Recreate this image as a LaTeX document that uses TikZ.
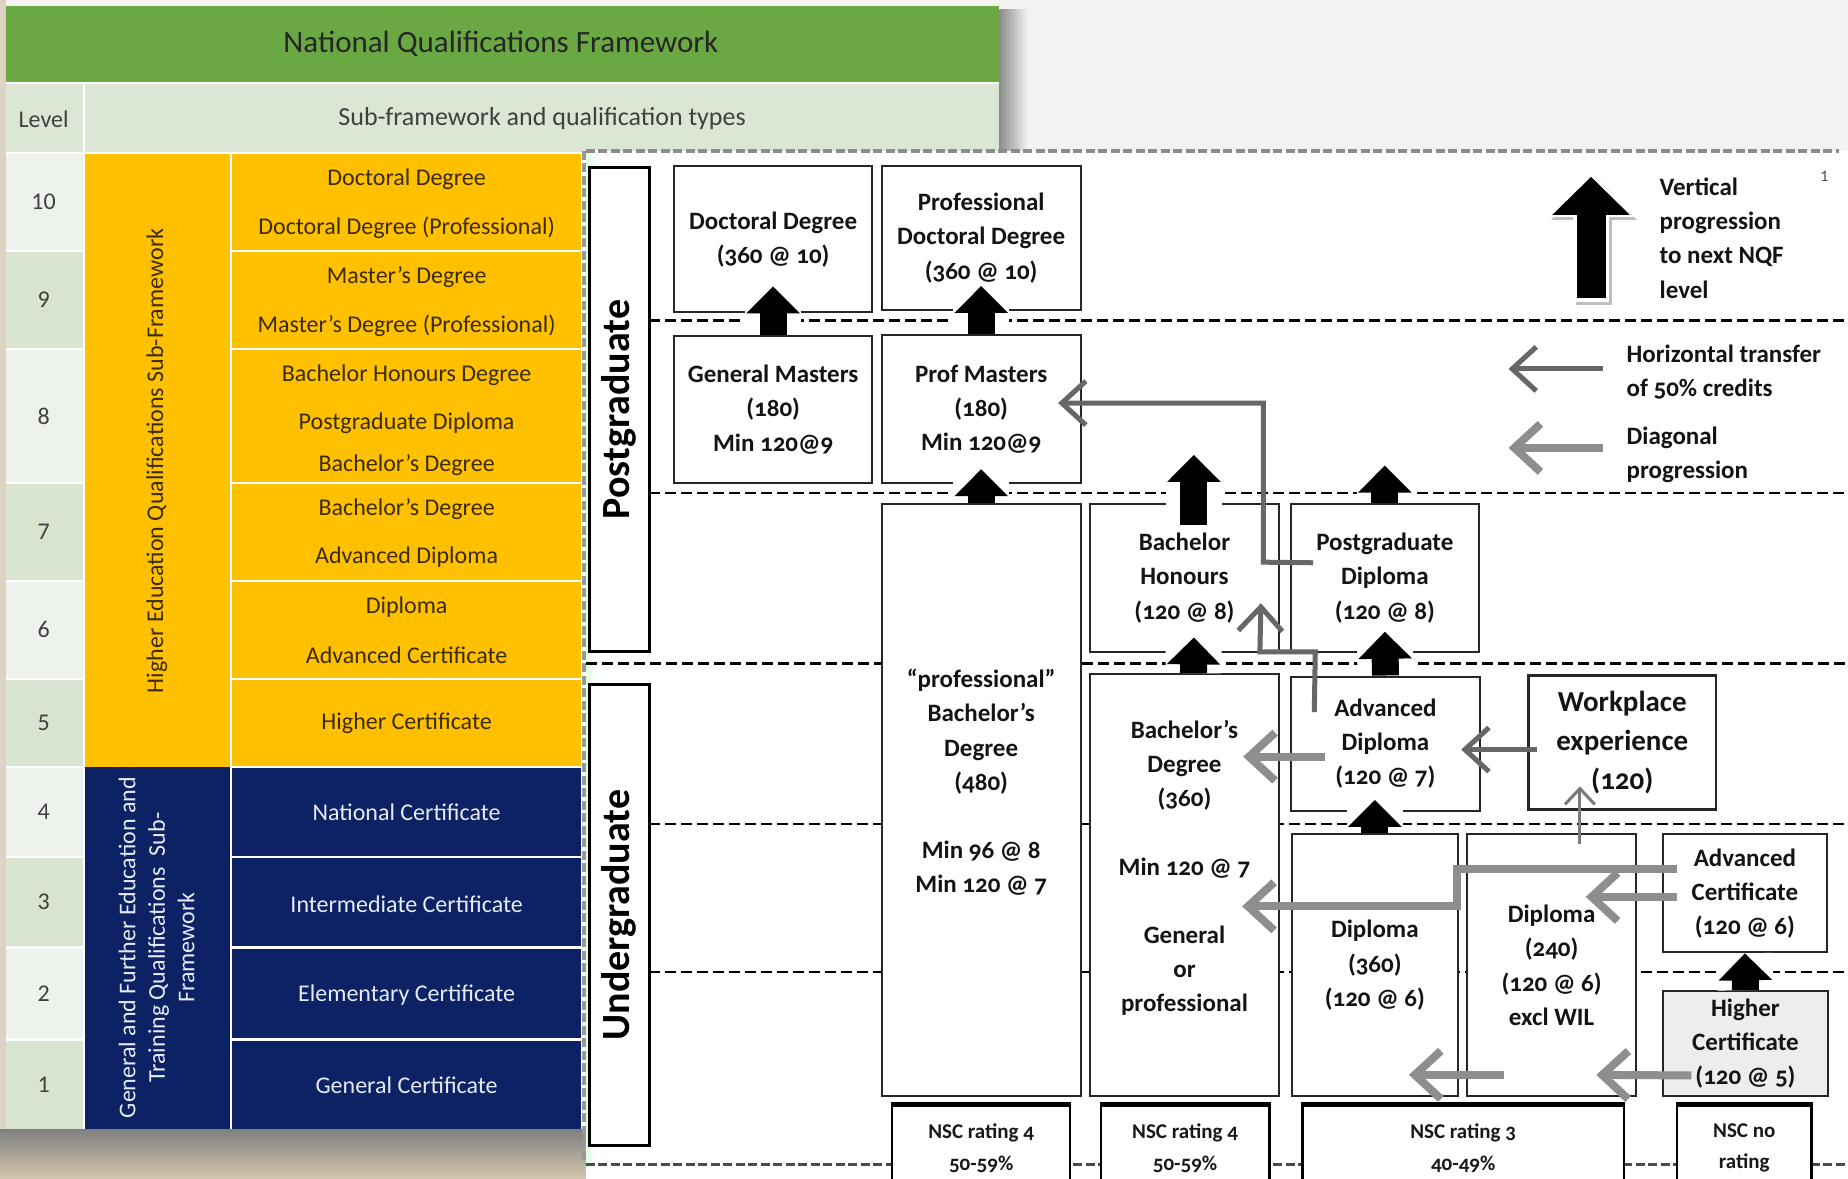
\documentclass[tikz,border=0pt]{standalone}
\usepackage{fontspec}
\setmainfont{Carlito}
\newfontfamily\dgfont{Carlito}[Numbers=OldStyle]
\usetikzlibrary{arrows.meta,calc}
\definecolor{hdrgreen}{HTML}{6AA843}
\definecolor{rowgreen}{HTML}{DCE6D5}
\definecolor{lvllight}{HTML}{EEF2EC}
\definecolor{lvldark}{HTML}{D8E3D0}
\definecolor{hegold}{HTML}{FFC000}
\definecolor{getnavy}{HTML}{0C2264}
\definecolor{goldtext}{HTML}{3B2C05}
\definecolor{navytext}{HTML}{E6EAF4}
\definecolor{bgbeige}{HTML}{D4C6AE}
\definecolor{bglight}{HTML}{F3F3F2}
\definecolor{darkarrow}{HTML}{676767}
\definecolor{lightarrow}{HTML}{8E8E8E}
\newcommand\blockup[2]{\draw[blkbg] #1 -- #2; \draw[blk] #1 -- #2;}
\begin{document}
\begin{tikzpicture}[x=1.1786pt,y=-1.1786pt,
  qb/.style 2 args={minimum width=#1*1.1786pt, minimum height=#2*1.1786pt, inner sep=0pt},
  tabtxt/.style={font=\fontsize{24}{28}\selectfont},
  goldcell/.style={tabtxt, text=goldtext},
  navycell/.style={tabtxt, text=navytext},
  sep/.style={draw=white, line width=2.2pt},
  box/.style={draw=black!85, line width=2pt, fill=white, align=center, text=black!92,
     font=\dgfont\bfseries\fontsize{25}{34.2}\selectfont},
  lblbox/.style={draw=black, line width=3pt, fill=white, text=black,
     font=\dgfont\bfseries\fontsize{40}{44}\selectfont},
  nscbox/.style={draw=black, line width=2.4pt, fill=white, align=center, text=black!90,
     font=\dgfont\bfseries\fontsize{21}{31.8}\selectfont},
  lvdash/.style={draw=black, line width=2.2pt, dash pattern=on 11pt off 5pt},
  edgedash/.style={draw=#1, line width=3.6pt, dash pattern=on 9pt off 3.5pt},
  blkbg/.style={draw=white, line width=56pt},
  blk/.style={draw=black, line width=27pt, -{Triangle[length=27pt,width=52pt]}},
  soft/.style={preaction={draw=#1, opacity=0.25, line width=+4pt}},
  drk/.style={draw=darkarrow, line width=5pt, -{Straight Barb[length=24pt,width=44pt]}, soft=darkarrow},
  lgt/.style={draw=lightarrow, line width=8pt, -{Straight Barb[length=26pt,width=48pt]}, soft=lightarrow},
  thn/.style={draw=lightarrow!85!black, line width=3pt, -{Straight Barb[length=16pt,width=30pt]}},
  legtxt/.style={align=left, anchor=west, inner sep=0pt, text=black!92,
     font=\dgfont\bfseries\fontsize{25}{34.2}\selectfont}
]
\clip (0,0) rectangle (1568,1000);
% backdrop
\fill[bglight] (0,0) rectangle (1568,1000);
\fill[bgbeige!70!bglight] (0,0) rectangle (5,1000);
\shade[top color=black!50, bottom color=bgbeige] (0,958) rectangle (497,1000);
\shade[left color=black!45, right color=bglight] (848,8) rectangle (872,132);

% ---------------- NQF table ----------------
\fill[white] (5,5) rectangle (848,958);
\fill[hdrgreen] (5,5) rectangle (848,70);
\node[font=\fontsize{31}{36}\selectfont, text=black!85] (title) at (425,37) {National Qualifications Framework};
\fill[rowgreen] (5,71) rectangle (848,130);
\draw[sep] (71.5,70) -- (71.5,130);
\node[tabtxt, text=black!75] (lvlhead) at (37,101) {Level};
\node[font=\fontsize{26}{30}\selectfont, text=black!75] (subhead) at (460,101) {Sub-framework and qualification types};

\foreach \top/\bot/\lv/\col in {130/213/10/lvllight, 213/296/9/lvldark, 296/410/8/lvllight,
  410/493/7/lvldark, 493/576/6/lvllight, 576/651/5/lvldark, 651/727/4/lvllight,
  727/804/3/lvldark, 804/882/2/lvllight, 882/958/1/lvldark}{
  \fill[\col] (5,\top) rectangle (71,\bot);
  \node[tabtxt, text=black!75] (lv\lv) at (37,{(\top+\bot)/2}) {\lv};
}
\fill[hegold] (72,130) rectangle (493,651);
\fill[getnavy] (72,651) rectangle (493,958);
\draw[sep] (196,130) -- (196,958);
\foreach \y in {213,296,410,493,576,651,727,804,882}{
  \draw[sep] (5,\y) -- (71,\y);
  \draw[sep] (196,\y) -- (493,\y);
}
\draw[sep] (71.5,130) -- (71.5,958);
\draw[sep] (5,130) -- (848,130);

\foreach \y/\t [count=\i] in {152/Doctoral Degree, 193/Doctoral Degree (Professional),
  235/Master’s Degree, 276/Master’s Degree (Professional), 318/Bachelor Honours Degree,
  359/Postgraduate Diploma, 395/Bachelor’s Degree, 432/Bachelor’s Degree,
  473/Advanced Diploma, 515/Diploma, 556/Advanced Certificate, 614/Higher Certificate}{
  \node[goldcell] (hq\i) at (345,\y) {\t};
}
\foreach \y/\t [count=\i] in {689/National Certificate, 767/Intermediate Certificate,
  844/Elementary Certificate, 921/General Certificate}{
  \node[navycell] (gq\i) at (345,\y) {\t};
}
\node[goldcell, font=\fontsize{24}{28}\selectfont, rotate=90] (hesub) at (133,391)
  {Higher Education Qualifications Sub-Framework};
\node[navycell, font=\fontsize{24}{29.5}\selectfont, rotate=90, align=center] (getsub) at (133,804)
  {General and Further Education and\\ Training Qualifications\ \ Sub-\\ Framework};

% ---------------- progression chart ----------------
\fill[white] (497,128) rectangle (1568,1000);
\shade[left color=green!12!white, right color=white] (497,128) rectangle (507,990);
\draw[edgedash=black!45] (497,128) -- (1560,128);
\draw[edgedash=black!40] (495.5,128) -- (495.5,988);
\draw[edgedash=black!70] (497,988) -- (1568,988);

% level boundaries
\foreach \y in {272,418,699,825}{\draw[lvdash] (551,\y) -- (1568,\y);}
\draw[lvdash] (497,563) -- (1568,563);

% band labels
\node[lblbox, rotate=90, qb={411}{51}] (pg) at (525.5,347.5) {Postgraduate};
\node[lblbox, rotate=90, qb={391}{51}] (ug) at (525.5,776.5) {Undergraduate};

% qualification boxes
\node[box, qb={168}{124}] (doc)   at (656,203)    {Doctoral Degree\\(360 @ 10)};
\node[box, qb={169}{122}] (pdoc)  at (832.5,202)  {Professional\\Doctoral Degree\\(360 @ 10)};
\node[box, qb={168}{125}] (gm)    at (656,347.5)  {General Masters\\(180)\\Min 120@9};
\node[box, qb={169}{126}] (pm)    at (832.5,347)  {Prof Masters\\(180)\\Min 120@9};
\node[box, qb={169}{502}] (pbach) at (832.5,679)  {“professional”\\Bachelor’s\\Degree\\(480)\\[34.2pt]Min 96 @ 8\\Min 120 @ 7\\[4pt]};
\node[box, qb={160}{125}] (bh)    at (1005,490.5) {Bachelor\\Honours\\(120 @ 8)};
\node[box, qb={160}{358}] (bdeg)  at (1005,751)   {Bachelor’s\\Degree\\(360)\\[34.2pt]Min 120 @ 7\\[34.2pt]General\\or\\professional\\[4pt]};
\node[box, qb={160}{125}] (pgd)   at (1175,490.5) {Postgraduate\\Diploma\\(120 @ 8)};
\node[box, qb={161}{114}] (adip)  at (1175.5,631) {Advanced\\Diploma\\(120 @ 7)};
\node[box, qb={159}{114}, line width=2.8pt, font=\dgfont\bfseries\fontsize{29}{39}\selectfont] (wpe) at (1376.5,630) {Workplace\\experience\\(120)};
\node[box, qb={141}{222}] (dip3)  at (1166.5,819) {Diploma\\(360)\\(120 @ 6)};
\node[box, qb={143}{222}] (dip2)  at (1316.5,819) {Diploma\\(240)\\(120 @ 6)\\excl WIL};
\node[box, qb={139}{100}] (acert) at (1480.5,758) {Advanced\\Certificate\\(120 @ 6)};
\node[box, qb={140}{89}, fill=black!7] (hcert) at (1481,885.5) {Higher\\Certificate\\(120 @ 5)};

% entry requirements
\node[nscbox, qb={151}{72}] (nsc1) at (832.5,974)  {NSC rating 4\\50-59\%};
\node[nscbox, qb={143}{72}] (nsc2) at (1005.5,974) {NSC rating 4\\50-59\%};
\node[nscbox, qb={273}{72}] (nsc3) at (1241.5,974) {NSC rating 3\\40-49\%};
\node[nscbox, qb={114}{72}] (nsc4) at (1480,974)   {NSC no\\rating};
\foreach \n in {nsc1,nsc2,nsc3,nsc4}{\draw[line width=4.5pt] (\n.north west) -- (\n.north east);}

% vertical progression
\coordinate (bhup)  at (1013,386);
\coordinate (pgdup) at (1175,395);
\coordinate (t8) at ([yshift=12pt]adip.south);
\blockup{(gm.north)}{([yshift=27pt]doc.south)}
\blockup{(pm.north)}{([yshift=25pt]pdoc.south)}
\blockup{(pbach.north)}{([yshift=15pt]pm.south)}
\blockup{([shift={(8,18)}]bh.north)}{(bhup)}
\blockup{(pgd.north)}{(pgdup)}
\blockup{([xshift=9pt]bdeg.north)}{([shift={(8,-13)}]bh.south)}
\blockup{(adip.north)}{([yshift=21pt]pgd.south)}
\blockup{(dip3.north)}{(t8 -| dip3.north)}
\blockup{(hcert.north)}{(acert.south)}

% horizontal transfer and diagonal progression
\draw[drk] ([shift={(20,-13)}]pgd.west) -- (1072,477) -- (1072,342) -- ([shift={(-20,-5)}]pm.east);
\draw[drk] ([shift={(21,31)}]adip.north west) -- (1116,553) -- (1069,553) -- ([shift={(-16,-42)}]bh.south east);
\draw[lgt] ([shift={(30,11)}]adip.west) -- ([shift={(-31,-109)}]bdeg.east);
\draw[drk] ([shift={(8,6)}]wpe.west) -- ([shift={(-17,5)}]adip.east);
\draw[thn] ([shift={(24,9)}]dip2.north) -- ([shift={(-36,-21)}]wpe.south);
\draw[lgt] ([shift={(13,-21)}]acert.west) -- (1236,737) -- (1236,769) -- ([shift={(49,18)}]bdeg.center);
\draw[lgt] ([shift={(13,3)}]acert.west) -- ([shift={(29,-58)}]dip2.center);
\draw[lgt] ([shift={(25,27)}]hcert.west) -- ([shift={(38,93)}]dip2.center);
\draw[lgt] ([shift={(-40,93)}]dip2.center) -- ([shift={(29,93)}]dip3.center);

% legend
\coordinate (lgbase) at (1350,253);
\coordinate (lgtip)  at (1350,150);
\draw[black!25, line width=36pt, -{Triangle[length=44pt,width=83pt]}] ([xshift=3pt,yshift=-7pt]lgbase) -- ([xshift=3pt,yshift=1pt]lgtip);
\draw[white, line width=36pt, -{Triangle[length=44pt,width=83pt]}] ([yshift=-4pt]lgbase) -- ([yshift=4pt]lgtip);
\draw[black, line width=29pt, -{Triangle[length=38pt,width=75pt]}] (lgbase) -- (lgtip);
\node[legtxt] (lgv) at (1408,202) {Vertical\\progression\\to next NQF\\level};
\coordinate (hz0) at (1360,313);
\coordinate (hz1) at (1280,313);
\coordinate (dg0) at (1360,380);
\coordinate (dg1) at (1280,380);
\draw[drk] (hz0) -- (hz1);
\draw[lgt] (dg0) -- (dg1);
\node[legtxt] (lgh) at (1380,315.5) {Horizontal transfer\\of 50\% credits};
\node[legtxt] (lgd) at (1380,386) {Diagonal\\progression};
\node[font=\fontsize{16}{18}\selectfont, text=black!70] (pgno) at (1548,150) {1};
\end{tikzpicture}
\end{document}
